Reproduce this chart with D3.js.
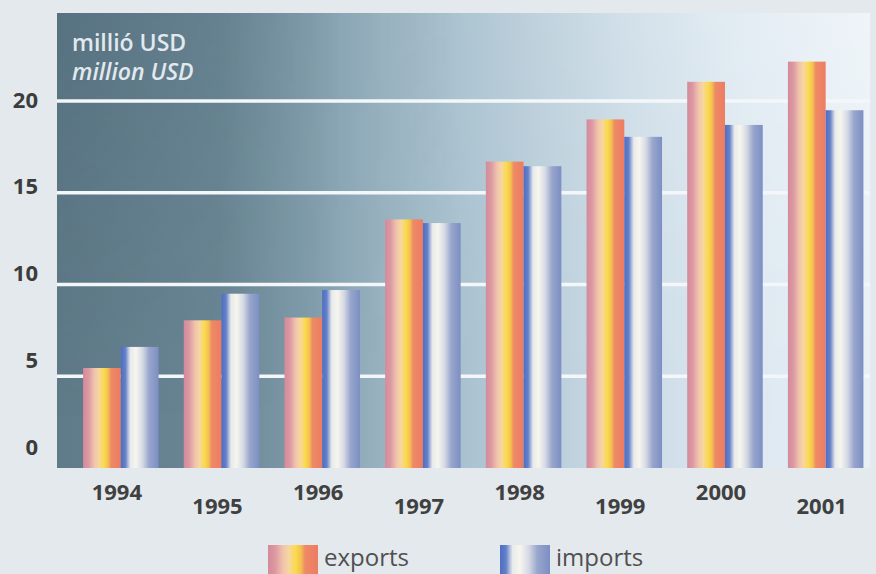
<!DOCTYPE html>
<html><head><meta charset="utf-8">
<script src="https://cdn.jsdelivr.net/npm/d3@7"></script>
<style>
html,body{margin:0;padding:0;background:#e3e9ed;}
svg{display:block;}
text{font-family:"Open Sans","DejaVu Sans",sans-serif;}
</style></head>
<body>
<svg id="chart" width="876" height="574"></svg>
<script>
const years = ["1994","1995","1996","1997","1998","1999","2000","2001"];
const exportsVals = [5.45, 8.05, 8.2, 13.55, 16.7, 19.0, 21.05, 22.15];
const importsVals = [6.6, 9.5, 9.7, 13.35, 16.45, 18.05, 18.7, 19.5];
const yTicks = [0, 5, 10, 15, 20];
const seriesNames = ["exports", "imports"];
const unitLabels = ["millió USD", "million USD"];

const W = 876, H = 574;
const plot = {left: 57, top: 13, right: 870, bottom: 468};

const svg = d3.select("#chart");
const defs = svg.append("defs");

// base background gradient (horizontal)
const bg = defs.append("linearGradient").attr("id","bgGrad")
  .attr("x1","0").attr("y1","0").attr("x2","1").attr("y2","0");
[["0","#5f7a88"],["0.2","#6a8694"],["0.3","#7e9aa8"],["0.4","#98b2c0"],["0.5","#aac2d0"],["0.7","#c9dae5"],["0.85","#dce8f1"],["1","#e8f0f6"]]
  .forEach(([o,c])=>bg.append("stop").attr("offset",o).attr("stop-color",c));
// weak top-weighted overlay: slightly darker left, lighter right
const ov = defs.append("linearGradient").attr("id","ovGrad")
  .attr("x1","0").attr("y1","0").attr("x2","1").attr("y2","0");
[["0","#2c4454",0.15],["0.25","#2c4454",0.05],["0.35","#2c4454",0],["0.5","#ffffff",0.05],["0.75","#ffffff",0.2],["1","#ffffff",0.3]]
  .forEach(([o,c,a])=>ov.append("stop").attr("offset",o).attr("stop-color",c).attr("stop-opacity",a));
const mg = defs.append("linearGradient").attr("id","maskGrad")
  .attr("x1","0").attr("y1","0").attr("x2","0").attr("y2","1");
[["0","#ffffff"],["0.4","#888888"],["0.9","#000000"]]
  .forEach(([o,c])=>mg.append("stop").attr("offset",o).attr("stop-color",c));
const mask = defs.append("mask").attr("id","topMask").attr("maskUnits","userSpaceOnUse")
  .attr("x",plot.left).attr("y",plot.top).attr("width",plot.right-plot.left).attr("height",plot.bottom-plot.top);
mask.append("rect").attr("x",plot.left).attr("y",plot.top)
  .attr("width",plot.right-plot.left).attr("height",plot.bottom-plot.top).attr("fill","url(#maskGrad)");

const exG = defs.append("linearGradient").attr("id","exGrad").attr("x1","0").attr("x2","1").attr("y1","0").attr("y2","0");
[["0","#d48a9a"],["0.14","#dc98a2"],["0.3","#f0c4ac"],["0.42","#f7d6a0"],["0.55","#fadb4c"],["0.66","#f4c050"],["0.74","#ee8a66"],["1","#ec7c62"]]
  .forEach(([o,c])=>exG.append("stop").attr("offset",o).attr("stop-color",c));

const imG = defs.append("linearGradient").attr("id","imGrad").attr("x1","0").attr("x2","1").attr("y1","0").attr("y2","0");
[["0","#4f6ec4"],["0.12","#6480c8"],["0.25","#e8eaea"],["0.4","#f6f6ee"],["0.58","#d4d8e4"],["0.75","#98a6cc"],["1","#7c8ec4"]]
  .forEach(([o,c])=>imG.append("stop").attr("offset",o).attr("stop-color",c));

const y = d3.scaleLinear().domain([0, 24.8]).range([plot.bottom, plot.top]);
const yLab = d3.scaleLinear().domain([0, 20]).range([447, 100]);
const x = d3.scaleBand().domain(years).range([70.5, 876]).paddingInner(0.25).paddingOuter(0.125);
const xs = d3.scaleBand().domain(seriesNames).range([0, x.bandwidth()]);

const pw = plot.right-plot.left, ph = plot.bottom-plot.top;
svg.append("rect").attr("x",plot.left).attr("y",plot.top).attr("width",pw).attr("height",ph)
  .attr("fill","url(#bgGrad)");
svg.append("rect").attr("x",plot.left).attr("y",plot.top).attr("width",pw).attr("height",ph)
  .attr("fill","url(#ovGrad)").attr("mask","url(#topMask)");

// grid lines
svg.append("g").selectAll("line").data(yTicks.filter(d=>d>0)).join("line")
  .attr("x1",plot.left).attr("x2",plot.right)
  .attr("y1",d=>y(d)).attr("y2",d=>y(d))
  .attr("stroke","#f4f7f9").attr("stroke-width",3.5);

// y labels
svg.append("g").selectAll("text").data(yTicks).join("text")
  .attr("x",38).attr("y",d=>yLab(d)).attr("dy","0.35em")
  .attr("text-anchor","end").attr("font-size",22).attr("font-weight",700)
  .attr("fill","#3c3c3c").text(d=>d);

// bars
const groups = svg.append("g").selectAll("g").data(years).join("g")
  .attr("transform",d=>`translate(${x(d)},0)`);
groups.append("rect")
  .attr("x",xs("exports")).attr("width",xs.bandwidth())
  .attr("y",(d,i)=>y(exportsVals[i])).attr("height",(d,i)=>y(0)-y(exportsVals[i]))
  .attr("fill","url(#exGrad)");
groups.append("rect")
  .attr("x",xs("imports")).attr("width",xs.bandwidth())
  .attr("y",(d,i)=>y(importsVals[i])).attr("height",(d,i)=>y(0)-y(importsVals[i]))
  .attr("fill","url(#imGrad)");

// year labels (staggered)
svg.append("g").selectAll("text").data(years).join("text")
  .attr("x",d=>x(d)+x.bandwidth()/2-4)
  .attr("y",(d,i)=> i%2===0 ? 500 : 514)
  .attr("text-anchor","middle").attr("font-size",22).attr("font-weight",700)
  .attr("fill","#404040").text(d=>d);

// unit labels
svg.append("text").attr("x",72).attr("y",51).attr("font-size",23).attr("font-weight",600)
  .attr("fill","#e2e9ee").text(unitLabels[0]);
svg.append("text").attr("x",72).attr("y",80).attr("font-size",23).attr("font-weight",600)
  .attr("font-style","italic").attr("fill","#e2e9ee").text(unitLabels[1]);

// legend
const legend = svg.append("g");
const legX = [268, 500];
seriesNames.forEach((s,i)=>{
  legend.append("rect").attr("x",legX[i]).attr("y",545).attr("width",50).attr("height",29)
    .attr("fill", i===0 ? "url(#exGrad)" : "url(#imGrad)");
  legend.append("text").attr("x",legX[i]+56).attr("y",566).attr("font-size",24)
    .attr("fill","#505050").text(s);
});
</script>
</body></html>
